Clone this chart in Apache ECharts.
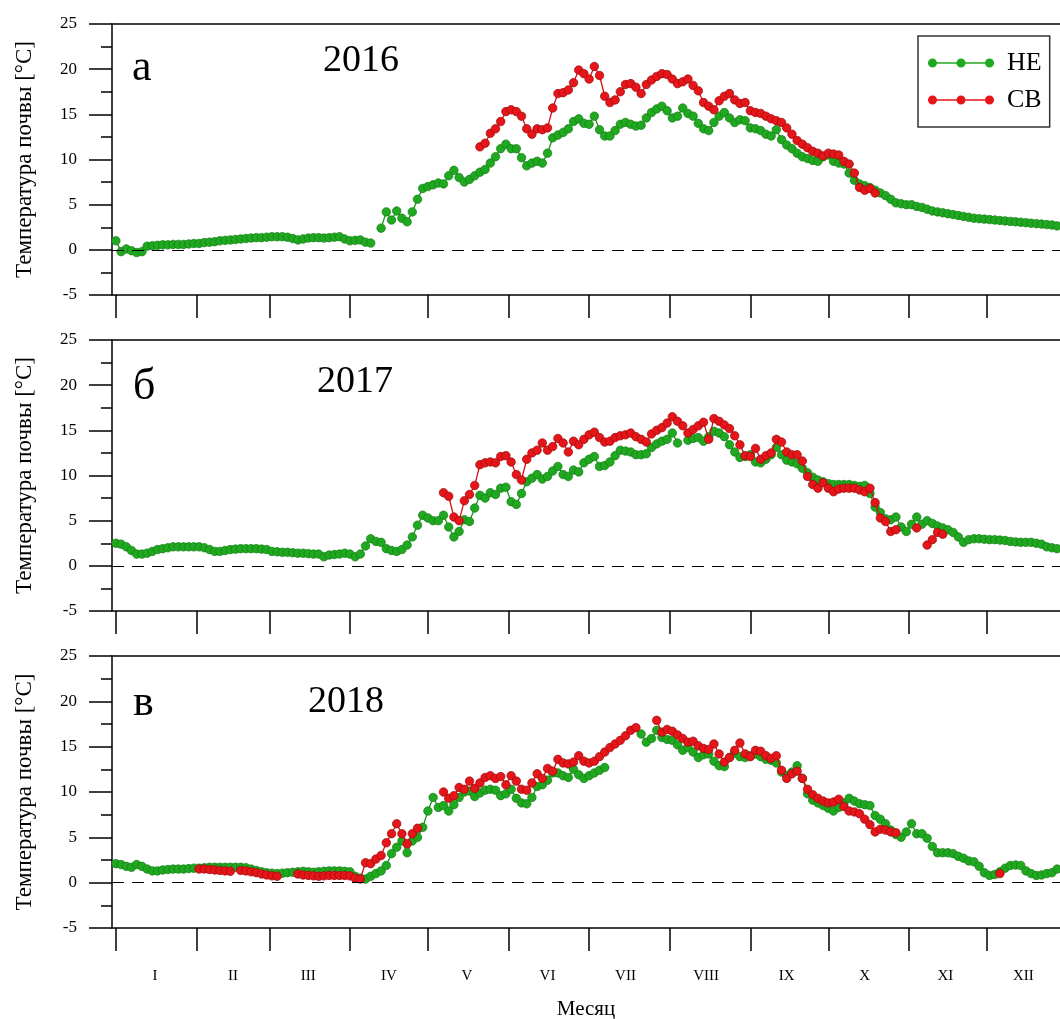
<!DOCTYPE html>
<html><head><meta charset="utf-8">
<script src="https://cdn.jsdelivr.net/npm/echarts@6/dist/echarts.min.js"></script>
<style>html,body{margin:0;padding:0;background:#fff}#c{width:1060px;height:1019px}</style>
</head><body><div id="c"></div>
<script>
// ---- data (day-of-year index, Jan 1 = 0; readings every STEP days) ----
const STEP = 2;
const monthStarts = [0, 31, 59, 90, 120, 151, 182, 213, 244, 274, 305, 335];
const monthMids = [15, 45, 74, 105, 135, 166, 196, 227, 258, 288, 319, 349];
const monthNames = ['I','II','III','IV','V','VI','VII','VIII','IX','X','XI','XII'];
const years = ['2016', '2017', '2018'];
const panelLetters = ['а', 'б', 'в'];
const seriesNames = ['НЕ', 'СВ'];

// segments: [startDay, values...]
const g16 = [[0, [
  1.0, -0.2, 0.1, -0.1, -0.3, -0.2, 0.4, 0.45, 0.5, 0.55,
  0.55, 0.6, 0.6, 0.6, 0.65, 0.7, 0.7, 0.8, 0.85, 0.9,
  1.0, 1.05, 1.1, 1.15, 1.2, 1.25, 1.3, 1.35, 1.35, 1.4,
  1.45, 1.45, 1.45, 1.4, 1.25, 1.1, 1.2, 1.3, 1.35, 1.35,
  1.3, 1.35, 1.4, 1.45, 1.2, 1.0, 1.05, 1.1, 0.85, 0.75,
  null, 2.4, 4.2, 3.3, 4.3, 3.5, 3.1, 4.2, 5.6, 6.8,
  7.0, 7.2, 7.4, 7.3, 8.2, 8.8, 8.0, 7.5, 7.8, 8.2,
  8.6, 8.9, 9.6, 10.3, 11.2, 11.7, 11.2, 11.2, 10.2, 9.3,
  9.6, 9.8, 9.6, 10.7, 12.4, 12.7, 13.0, 13.4, 14.2, 14.5,
  14.0, 13.9, 14.8, 13.3, 12.6, 12.6, 13.2, 13.9, 14.1, 13.9,
  13.7, 13.8, 14.6, 15.2, 15.6, 15.9, 15.4, 14.6, 14.8, 15.7,
  15.1, 14.8, 14.0, 13.4, 13.2, 14.1, 14.8, 15.2, 14.6, 14.1,
  14.4, 14.3, 13.5, 13.4, 13.2, 12.8, 12.6, 13.3, 12.2, 11.6,
  11.2, 10.7, 10.3, 10.1, 9.9, 9.8, 10.3, 10.5, 9.8, 9.6,
  9.5, 8.5, 7.7, 7.3, 7.1, 6.9, 6.6, 6.3, 6.0, 5.6,
  5.2, 5.1, 5.0, 5.0, 4.8, 4.7, 4.5, 4.3, 4.2, 4.1,
  4.0, 3.9, 3.8, 3.7, 3.6, 3.5, 3.45, 3.4, 3.35, 3.3,
  3.25, 3.2, 3.15, 3.1, 3.05, 3.0, 2.95, 2.9, 2.85, 2.8,
  2.75, 2.65, 2.6]]];
const r16 = [[140, [
  11.4, 11.8, 12.9, 13.4, 14.2, 15.3, 15.5, 15.3, 14.8, 13.4,
  12.8, 13.4, 13.3, 13.5, 15.7, 17.3, 17.4, 17.7, 18.5, 19.9,
  19.5, 18.9, 20.3, 19.3, 17.0, 16.3, 16.6, 17.5, 18.3, 18.4,
  18.0, 17.3, 18.3, 18.8, 19.2, 19.5, 19.4, 18.9, 18.4, 18.6,
  18.9, 18.2, 17.6, 16.3, 15.9, 15.5, 16.5, 17.0, 17.3, 16.6,
  16.2, 16.3, 15.4, 15.2, 15.1, 14.8, 14.5, 14.3, 14.1, 13.5,
  12.8, 12.1, 11.7, 11.3, 10.9, 10.7, 10.4, 10.7, 10.6, 10.5,
  9.8, 9.5, 8.5, 6.9, 6.6, 6.8, 6.3]]];

const g17 = [[0, [
  2.5, 2.4, 2.1, 1.7, 1.3, 1.3, 1.4, 1.6, 1.8, 1.9,
  2.0, 2.1, 2.1, 2.1, 2.1, 2.1, 2.1, 2.0, 1.8, 1.6,
  1.6, 1.7, 1.8, 1.85, 1.9, 1.9, 1.9, 1.9, 1.85, 1.8,
  1.6, 1.55, 1.5, 1.5, 1.45, 1.4, 1.4, 1.35, 1.3, 1.3,
  1.0, 1.2, 1.25, 1.3, 1.4, 1.3, 1.0, 1.3, 2.2, 3.0,
  2.7, 2.6, 1.9, 1.7, 1.6, 1.8, 2.3, 3.2, 4.5, 5.6,
  5.3, 5.0, 5.0, 5.6, 4.3, 3.2, 3.8, 5.1, 4.9, 6.4,
  7.8, 7.5, 8.1, 7.9, 8.6, 8.7, 7.1, 6.8, 8.0, 9.3,
  9.7, 10.1, 9.6, 9.9, 10.5, 11.0, 10.1, 9.9, 10.6, 10.4,
  11.4, 11.8, 12.1, 11.0, 11.1, 11.5, 12.2, 12.8, 12.7, 12.6,
  12.3, 12.3, 12.4, 13.1, 13.5, 13.8, 14.0, 14.7, 13.6, null,
  13.9, 14.1, 14.2, 13.8, 14.3, 14.9, 14.7, 14.3, 13.4, 12.6,
  12.0, 12.1, 12.3, 11.5, 11.4, 11.8, 12.3, 13.1, 12.3, 11.7,
  11.5, 11.3, 10.8, 10.3, 9.8, 9.5, 9.3, 9.1, 9.0, 9.0,
  9.0, 9.0, 8.9, 8.8, 8.9, 8.0, 6.5, 5.9, 5.2, 5.1,
  5.4, 4.3, 3.8, 4.6, 5.4, 4.6, 5.0, 4.7, 4.4, 4.2,
  4.0, 3.7, 3.2, 2.6, 2.9, 3.0, 3.0, 2.95, 2.9, 2.9,
  2.85, 2.8, 2.7, 2.65, 2.6, 2.6, 2.6, 2.5, 2.4, 2.1,
  2.0, 1.9, 1.8]]];
const r17 = [[126, [
  8.1, 7.7, 5.4, 5.0, 7.2, 7.9, 8.9, 11.2, 11.4, 11.5,
  11.4, 12.1, 12.2, 11.5, 10.1, 9.5, 11.8, 12.5, 12.8, 13.6,
  12.8, 13.2, 14.1, 13.6, 12.6, 13.8, 13.4, 14.0, 14.5, 14.8,
  14.2, 13.7, 13.8, 14.2, 14.4, 14.5, 14.7, 14.3, 14.0, 13.7,
  14.6, 15.0, 15.3, 15.8, 16.5, 16.0, 15.5, 14.7, 15.1, 15.5,
  15.9, 14.0, 16.3, 16.0, 15.6, 15.2, 14.4, 13.4, 12.2, 12.1,
  13.0, 11.8, 12.2, 12.5, 14.0, 13.7, 12.6, 12.3, 12.3, 11.6,
  9.9, 9.0, 8.6, 9.2, 8.6, 8.2, 8.5, 8.6, 8.6, 8.6,
  8.4, 8.2, 8.6, 7.0, 5.3, 4.9, 3.8, 4.0]],
  [308, [4.2]],
  [312, [2.3, 2.9, 3.7, 3.5]]];

const g18 = [[0, [
  2.1, 2.0, 1.8, 1.7, 2.0, 1.8, 1.5, 1.3, 1.3, 1.4,
  1.45, 1.5, 1.5, 1.5, 1.55, 1.6, 1.6, 1.65, 1.7, 1.7,
  1.7, 1.7, 1.7, 1.7, 1.7, 1.65, 1.5, 1.35, 1.2, 1.1,
  1.05, 1.0, 1.05, 1.1, 1.15, 1.2, 1.25, 1.2, 1.15, 1.2,
  1.25, 1.3, 1.3, 1.3, 1.25, 1.2, 0.7, 0.5, 0.4, 0.7,
  1.0, 1.3, 1.9, 3.2, 3.9, 4.6, 3.3, 4.6, 5.0, 6.1,
  7.9, 9.4, 8.3, 8.5, 7.9, 8.6, 9.4, 10.0, 10.1, 9.5,
  9.9, 10.2, 10.3, 10.2, 9.6, 9.8, 10.3, 9.3, 8.8, 8.7,
  9.4, 10.6, 10.8, 11.3, 12.1, 12.1, 11.8, 11.6, 12.5, 11.9,
  11.5, 11.8, 12.1, 12.4, 12.7]],
  [202, [
  16.4, 15.5, 15.9, 16.8, 16.0, 15.8, 15.7, 15.2, 14.6,
  14.9, 14.4, 13.8, 14.1, 14.2, 13.4, 12.9, 12.8, 13.8, 14.3,
  13.9, 13.8, 14.0, 14.2, 13.9, 13.6, 13.5, 13.2, 12.2, 11.8,
  12.2, 12.9, 11.5, 9.8, 9.1, 8.8, 8.5, 8.2, 7.9, 8.3,
  8.8, 9.3, 9.0, 8.7, 8.6, 8.5, 7.4, 7.0, 6.5, 5.8,
  5.3, 5.0, 5.6, 6.5, 5.4, 5.4, 4.9, 4.0, 3.3, 3.3,
  3.3, 3.2, 2.9, 2.7, 2.4, 2.3, 1.8, 1.1, 0.8, 0.9,
  1.2, 1.6, 1.9, 1.95, 1.9, 1.3, 1.0, 0.8, 0.85, 1.0,
  1.1, 1.5, 1.6]]];
const r18 = [[32, [
  1.5, 1.5, 1.45, 1.4, 1.35, 1.3, 1.25, null, 1.35, 1.3,
  1.2, 1.1, 0.95, 0.85, 0.75, 0.7, null, null, null, 0.95,
  0.85, 0.8, 0.75, 0.7, 0.75, 0.8, 0.8, 0.8, 0.8, 0.75,
  0.5, 0.4, 2.2, 2.1, 2.6, 3.0, 4.4, 5.4, 6.5, 5.4,
  4.3, 5.4, 6.0]],
  [126, [
  10.0, 9.3, 9.6,
  10.5, 10.3, 11.2, 10.4, 11.0, 11.6, 11.8, 11.5, 11.7, 10.8,
  11.8, 11.2, 10.3, 10.2, 11.0, 12.0, 11.5, 12.6, 12.3, 13.6,
  13.2, 13.1, 13.3, 14.0, 13.4, 13.2, 13.4, 13.9, 14.4, 14.9,
  15.3, 15.7, 16.2, 16.8, 17.1]],
  [208, [
  17.9, 16.6,
  16.9, 16.7, 16.3, 15.9, 15.5, 15.6, 15.1, 14.8, 14.7, 15.3,
  14.2, 13.3, 13.8, 14.6, 15.4, 14.2, 13.9, 14.6, 14.5, 14.0,
  13.7, 14.0, 12.4, 11.5, 12.0, 12.3, 11.5, 10.3, 9.7, 9.3,
  9.0, 8.8, 8.9, 9.2, 8.4, 7.9, 7.8, 7.6, 7.0, 6.4,
  5.6, 5.9, 5.8, 5.6, 5.5]],
  [340, [1.0]]];

const panels = [[g16, r16], [g17, r17], [g18, r18]];

// ---- build ----
function toPairs(segs) {
  const out = [];
  segs.forEach((s, k) => {
    if (k > 0) out.push([s[0] - 1, null]);
    s[1].forEach((v, i) => out.push([s[0] + STEP * i, v]));
  });
  return out;
}

const FONT = 'Liberation Serif';
const GREEN = '#20a820', GREEN_B = '#137d13', GREEN_L = '#189418';
const RED = '#e5151a', RED_B = '#9a0a0a', RED_L = '#d01015';
const gridTops = [24, 340, 656];
const gridHeights = [271, 271, 272];
const X_MIN = -1.5, X_MAX = 363.1;
const BLACK = '#000';

const grid = [], xAxis = [], yAxis = [], series = [], graphic = [];
for (let p = 0; p < 3; p++) {
  grid.push({left: 112, top: gridTops[p], right: 0, height: gridHeights[p], show: false,
    containLabel: false, outerBoundsMode: 'none'});
  const last = p === 2;
  xAxis.push({
    gridIndex: p, type: 'value', min: X_MIN, max: X_MAX, position: 'bottom',
    axisLine: {show: true, onZero: false, lineStyle: {color: BLACK, width: 1.5}},
    axisTick: {show: true, customValues: monthStarts, length: 23, lineStyle: {color: BLACK, width: 1.5}},
    axisLabel: {show: last, customValues: monthMids, margin: 41,
      formatter: v => monthNames[monthMids.indexOf(v)] || '',
      fontFamily: FONT, fontSize: 15, color: BLACK},
    splitLine: {show: false},
    name: last ? 'Месяц' : '', nameLocation: 'middle', nameGap: 71,
    nameTextStyle: {fontFamily: FONT, fontSize: 21, color: BLACK}
  });
  yAxis.push({
    gridIndex: p, type: 'value', min: -5, max: 25, interval: 5,
    axisLine: {show: true, onZero: false, lineStyle: {color: BLACK, width: 1.5}},
    axisTick: {show: true, length: 23, lineStyle: {color: BLACK, width: 1.5}},
    minorTick: {show: true, splitNumber: 2, length: 11, lineStyle: {color: BLACK, width: 1.5}},
    axisLabel: {fontFamily: FONT, fontSize: 17, color: BLACK, margin: 35},
    splitLine: {show: false},
    name: 'Температура почвы [°C]', nameLocation: 'middle', nameRotate: 90, nameGap: 76,
    nameTextStyle: {fontFamily: FONT, fontSize: 23, color: BLACK}
  });
  const [gSeg, rSeg] = panels[p];
  series.push({
    type: 'line', name: seriesNames[0], xAxisIndex: p, yAxisIndex: p, data: toPairs(gSeg),
    symbol: 'circle', symbolSize: 8.5, showSymbol: true, showAllSymbol: true, connectNulls: false,
    lineStyle: {color: GREEN_L, width: 1.3}, itemStyle: {color: GREEN, borderColor: GREEN_B, borderWidth: 0.7},
    emphasis: {disabled: true}, z: 2,
    markLine: {silent: true, symbol: 'none', label: {show: false}, animation: false,
      lineStyle: {type: [12, 8], color: BLACK, width: 1}, data: [{yAxis: 0}]}
  });
  series.push({
    type: 'line', name: seriesNames[1], xAxisIndex: p, yAxisIndex: p, data: toPairs(rSeg),
    symbol: 'circle', symbolSize: 8.5, showSymbol: true, showAllSymbol: true, connectNulls: false,
    lineStyle: {color: RED_L, width: 1.3}, itemStyle: {color: RED, borderColor: RED_B, borderWidth: 0.7},
    emphasis: {disabled: true}, z: 3
  });
}
// top frame line of each panel
for (let p = 0; p < 3; p++) {
  xAxis.push({
    gridIndex: p, type: 'value', min: X_MIN, max: X_MAX, position: 'top',
    axisLine: {show: true, onZero: false, lineStyle: {color: BLACK, width: 1.5}},
    axisTick: {show: false}, axisLabel: {show: false}, splitLine: {show: false}
  });
}

// panel letters and year labels
const letterPos = [[132, 46], [133, 365], [133, 681]];
const yearPos = [[323, 42], [317, 363], [308, 683]];
for (let p = 0; p < 3; p++) {
  graphic.push({type: 'text', left: letterPos[p][0], top: letterPos[p][1], silent: true,
    style: {text: panelLetters[p], font: '44px "Liberation Serif"', fill: BLACK}});
  graphic.push({type: 'text', left: yearPos[p][0], top: yearPos[p][1], silent: true,
    style: {text: years[p], font: '38px "Liberation Serif"', fill: BLACK}});
}

const ICON = 'path://M0,3.8L66,3.8L66,5.2L0,5.2Z' +
  'M0,4.5A4.5,4.5 0 1,1 9,4.5A4.5,4.5 0 1,1 0,4.5Z' +
  'M28.5,4.5A4.5,4.5 0 1,1 37.5,4.5A4.5,4.5 0 1,1 28.5,4.5Z' +
  'M57,4.5A4.5,4.5 0 1,1 66,4.5A4.5,4.5 0 1,1 57,4.5Z';

const chart = echarts.init(document.getElementById('c'), null, {renderer: 'canvas'});
chart.setOption({
  animation: false,
  backgroundColor: '#fff',
  grid, xAxis, yAxis, series, graphic,
  legend: {
    left: 918, top: 36, orient: 'vertical', itemWidth: 66, itemHeight: 9, itemGap: 11,
    padding: [14, 8, 14, 10], borderColor: '#333', borderWidth: 1.5, backgroundColor: '#fff',
    textStyle: {fontFamily: FONT, fontSize: 26, color: BLACK, padding: [0, 0, 0, 8]},
    itemStyle: {borderWidth: 0},
    selectedMode: false,
    data: [{name: seriesNames[0], icon: ICON}, {name: seriesNames[1], icon: ICON}]
  }
});
</script></body></html>
